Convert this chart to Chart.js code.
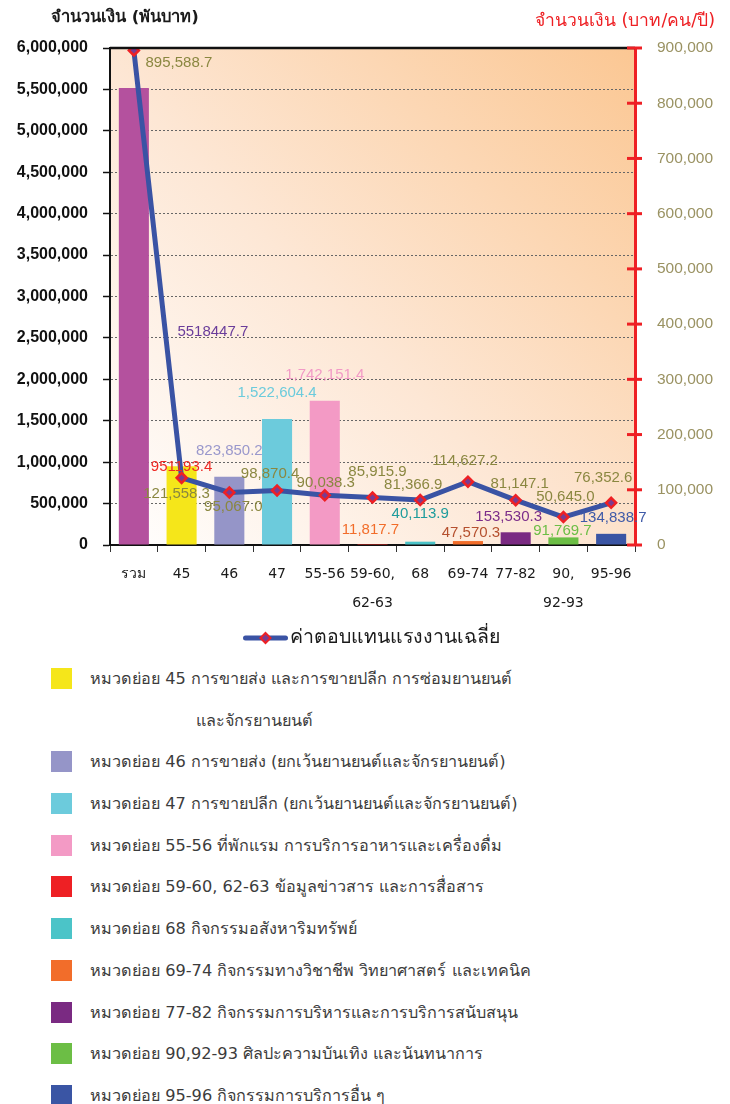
<!DOCTYPE html>
<html><head><meta charset="utf-8">
<script src="https://cdn.jsdelivr.net/npm/chart.js@4/dist/chart.umd.min.js"></script>
<style>
html,body{margin:0;padding:0;background:#fff;}
body{width:730px;height:1104px;overflow:hidden;font-family:'DejaVu Sans','Noto Sans',sans-serif;}
#wrap{position:relative;width:730px;height:656px;}
#legend{position:relative;width:730px;margin-top:2px;}
.row{position:relative;height:41.7px;line-height:41.7px;font-size:16.2px;color:#3c3c3c;}
.sq{position:absolute;left:51px;top:10px;width:21px;height:21px;}
.tx{position:absolute;left:90px;white-space:nowrap;}
.tx2{position:absolute;left:196px;white-space:nowrap;}
</style></head><body>
<div id="wrap"><canvas id="c" width="730" height="656"></canvas></div>
<div id="legend"></div>
<script>
const categories = ['รวม','45','46','47','55-56',['59-60,','62-63'],'68','69-74','77-82',['90,','92-93'],'95-96'];
const amountThousandBaht = [5518447.7, 951193.4, 823850.2, 1522604.4, 1742151.4, 11817.7, 40113.9, 47570.3, 153530.3, 91769.7, 134838.7];
const avgCompensation = [895588.7, 121558.3, 95067.0, 98870.4, 90038.3, 85915.9, 81366.9, 114627.2, 81147.1, 50645.0, 76352.6];
const leftAxisRange = [0, 6000000, 500000];
const rightAxisRange = [0, 900000, 100000];
const barColors = ['#B4519E','#F5E61A','#9595C8','#6CCBDC','#F39AC5','#EE2A24','#4BC3C8','#F26D2A','#7A2A82','#6CBE45','#3A55A4'];
const barLabelColors = ['#6A3D9A','#EE2A24','#9A98CC','#6CCBDC','#F29AC6','#F26D2A','#1E9C9C','#B5502E','#7B2D8A','#6CBE45','#3F5AA8'];
const barLabelGrouping = [false,false,true,true,true,true,true,true,true,true,true];
const lineName = 'ค่าตอบแทนแรงงานเฉลี่ย';
const leftTitle = 'จำนวนเงิน (พันบาท)';
const rightTitle = 'จำนวนเงิน (บาท/คน/ปี)';
const legendColors = ['#F5E61A','#9595C8','#6CCBDC','#F39AC5','#EE2024','#4BC4C8','#F26D2A','#7A2A82','#6CBE45','#3A55A4'];
const legendTexts = [
 ['หมวดย่อย 45 การขายส่ง และการขายปลีก การซ่อมยานยนต์','และจักรยานยนต์'],
 ['หมวดย่อย 46 การขายส่ง (ยกเว้นยานยนต์และจักรยานยนต์)'],
 ['หมวดย่อย  47 การขายปลีก (ยกเว้นยานยนต์และจักรยานยนต์)'],
 ['หมวดย่อย 55-56 ที่พักแรม การบริการอาหารและเครื่องดื่ม'],
 ['หมวดย่อย 59-60, 62-63 ข้อมูลข่าวสาร และการสื่อสาร'],
 ['หมวดย่อย 68 กิจกรรมอสังหาริมทรัพย์'],
 ['หมวดย่อย 69-74 กิจกรรมทางวิชาชีพ วิทยาศาสตร์ และเทคนิค'],
 ['หมวดย่อย 77-82 กิจกรรมการบริหารและการบริการสนับสนุน'],
 ['หมวดย่อย 90,92-93 ศิลปะความบันเทิง และนันทนาการ'],
 ['หมวดย่อย 95-96 กิจกรรมการบริการอื่น ๆ']
];
// label placement offsets (style only)
const barLabelOffsets = [[79,244],[0,1],[0,-26],[0,-26],[0,-26],[-2,-14],[0,-28],[3,-8],[-7,-15],[-1,-7],[2,-16]];
const lineLabelOffsets = [[45,12],[-5,16],[4,14],[-7,-17],[1,-12],[5,-26],[-7,-15],[-3,-21],[4,-16],[2,-20],[-8,-25]];
const lineLabelColor = '#8A8740';

// legend html
const lg = document.getElementById('legend');
legendTexts.forEach((t,i)=>{
  const r = document.createElement('div'); r.className='row';
  r.innerHTML = '<div class="sq" style="background:'+legendColors[i]+'"></div><div class="tx"></div>';
  r.querySelector('.tx').textContent = t[0];
  lg.appendChild(r);
  if (t[1]) {
    const r2 = document.createElement('div'); r2.className='row';
    r2.innerHTML = '<div class="tx2"></div>';
    r2.querySelector('.tx2').textContent = t[1];
    lg.appendChild(r2);
  }
});

const FONT = "'DejaVu Sans','Noto Sans',sans-serif";
const NUMFONT = "'Liberation Sans','DejaVu Sans',sans-serif";
Chart.defaults.font.family = NUMFONT;
const fmt = (v,g)=> v.toLocaleString('en-US',{minimumFractionDigits:1,maximumFractionDigits:1,useGrouping:g});

const deco = {
  id:'deco',
  beforeDraw(chart){
    const {ctx, chartArea:a} = chart;
    ctx.save();
    const g = ctx.createLinearGradient(a.left, a.bottom, a.right, a.top);
    g.addColorStop(0,'#FFFFFF');
    g.addColorStop(0.45,'#FDE7D5');
    g.addColorStop(1,'#FBC793');
    ctx.fillStyle = g;
    ctx.fillRect(a.left, a.top, a.width, a.height);
    ctx.restore();
  },
  afterDatasetsDraw(chart){
    const {ctx} = chart;
    ctx.save();
    ctx.font = '15px ' + NUMFONT;
    ctx.textAlign = 'center'; ctx.textBaseline = 'middle';
    chart.getDatasetMeta(0).data.forEach((el,i)=>{
      const o = barLabelOffsets[i];
      ctx.fillStyle = barLabelColors[i];
      ctx.fillText(fmt(amountThousandBaht[i], barLabelGrouping[i]), el.x+o[0], el.y+o[1]);
    });
    chart.getDatasetMeta(1).data.forEach((el,i)=>{
      const o = lineLabelOffsets[i];
      ctx.fillStyle = lineLabelColor;
      ctx.fillText(fmt(avgCompensation[i], true), el.x+o[0], el.y+o[1]);
    });
    ctx.restore();
  },
  afterDraw(chart){
    const {ctx, chartArea:a} = chart;
    ctx.save();
    // top border
    ctx.strokeStyle = '#111'; ctx.lineWidth = 2.5;
    ctx.beginPath(); ctx.moveTo(a.left, a.top); ctx.lineTo(a.right, a.top); ctx.stroke();
    // right axis red ticks
    const y1 = chart.scales.y1;
    ctx.strokeStyle = '#EE2024'; ctx.lineWidth = 3;
    y1.ticks.forEach(t=>{
      const y = y1.getPixelForValue(t.value);
      ctx.beginPath(); ctx.moveTo(a.right-8, y); ctx.lineTo(a.right+7, y); ctx.stroke();
    });
    // titles
    ctx.textBaseline = 'middle';
    ctx.fillStyle = '#1a1a1a'; ctx.font = 'bold 16.5px ' + FONT; ctx.textAlign = 'center';
    ctx.fillText(leftTitle, 125, 18);
    ctx.fillStyle = '#EE2024'; ctx.font = '17.5px ' + FONT; ctx.textAlign = 'right';
    ctx.fillText(rightTitle, 715, 21);
    // line legend
    ctx.font = '19.5px ' + FONT;
    const tw = ctx.measureText(lineName).width;
    const total = 40 + 4 + tw;
    const cx = (a.left + a.right)/2;
    const x0 = cx - total/2, ly = a.bottom + 93;
    ctx.strokeStyle = '#3A53A4'; ctx.lineWidth = 5; ctx.lineCap = 'round';
    ctx.beginPath(); ctx.moveTo(x0, ly); ctx.lineTo(x0+40, ly); ctx.stroke();
    ctx.fillStyle = '#7B3B8F'; ctx.strokeStyle = '#EE2024'; ctx.lineWidth = 2;
    ctx.beginPath(); ctx.moveTo(x0+20, ly-5); ctx.lineTo(x0+25, ly); ctx.lineTo(x0+20, ly+5); ctx.lineTo(x0+15, ly); ctx.closePath(); ctx.fill(); ctx.stroke();
    ctx.fillStyle = '#1a1a1a'; ctx.textAlign = 'left';
    ctx.fillText(lineName, x0+44, ly);
    ctx.restore();
  }
};

new Chart(document.getElementById('c'), {
  data: {
    labels: categories,
    datasets: [
      { type:'bar', data: amountThousandBaht, backgroundColor: barColors, yAxisID:'y',
        categoryPercentage:1, barPercentage:0.63, order:2 },
      { type:'line', data: avgCompensation, yAxisID:'y1', borderColor:'#3A53A4', borderWidth:5,
        pointStyle:'rectRot', pointRadius:5, pointBackgroundColor:'#7B3B8F', pointBorderColor:'#EE2024',
        pointBorderWidth:2.5, tension:0, order:1 }
    ]
  },
  options: {
    responsive:false, animation:false, devicePixelRatio:1,
    layout:{ padding:{ top:48, left:0, right:0, bottom:36 } },
    plugins:{ legend:{display:false}, tooltip:{enabled:false} },
    scales:{
      x:{
        grid:{ display:true, drawOnChartArea:false, offset:true, tickLength:7, tickColor:'#333', tickWidth:1 },
        border:{ display:true, color:'#111', width:2 },
        ticks:{ color:'#1a1a1a', font:{ family:FONT, size:14, lineHeight:2.07 }, padding:8, maxRotation:0, autoSkip:false },
        afterFit(s){ s.height = 75; }
      },
      y:{
        position:'left', min:leftAxisRange[0], max:leftAxisRange[1],
        ticks:{ stepSize:leftAxisRange[2], color:'#111', font:{ size:16, weight:'bold' }, padding:15,
          callback:v=>v.toLocaleString('en-US') },
        grid:{ color:'#666', lineWidth:1, tickLength:7, tickColor:'#111', tickWidth:1.5 },
        border:{ display:true, color:'#111', width:2, dash:[2,2] },
        afterFit(s){ s.width = 110; }
      },
      y1:{
        position:'right', min:rightAxisRange[0], max:rightAxisRange[1],
        ticks:{ stepSize:rightAxisRange[2], color:'#9A9262', font:{ size:15.5 }, padding:22,
          callback:v=>v.toLocaleString('en-US') },
        grid:{ drawOnChartArea:false, drawTicks:false },
        border:{ display:true, color:'#EE2024', width:3 },
        afterFit(s){ s.width = 95; }
      }
    }
  },
  plugins:[deco]
});
</script>
</body></html>
